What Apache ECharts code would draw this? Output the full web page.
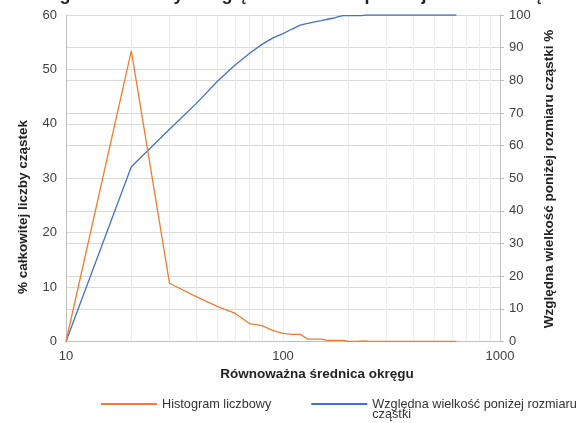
<!DOCTYPE html>
<html>
<head>
<meta charset="utf-8">
<script src="https://cdn.jsdelivr.net/npm/echarts@6/dist/echarts.min.js"></script>
<style>html,body{margin:0;padding:0;background:#fff}#c{width:587px;height:423px}</style>
</head>
<body>
<div id="c"></div>
<script>
var histX = [10, 20, 30, 40, 50, 60, 70, 80, 90, 100, 110, 120, 130, 140, 150, 160, 170, 180, 190, 200, 220, 235, 250, 300, 400, 500, 630];
var histY = [0, 53.4, 10.7, 8.2, 6.4, 5.2, 3.3, 2.9, 2.0, 1.5, 1.3, 1.3, 0.45, 0.45, 0.45, 0.2, 0.2, 0.2, 0.2, 0, 0, 0.1, 0, 0, 0, 0, 0];
var cumX = [10, 20, 30, 40, 50, 60, 70, 80, 90, 100, 110, 120, 130, 140, 150, 160, 170, 180, 190, 200, 230, 240, 300, 400, 500, 630];
var cumY = [0, 53.5, 65, 73, 79.8, 84.6, 88.2, 91, 93, 94.3, 95.7, 96.9, 97.4, 97.9, 98.3, 98.7, 99.0, 99.5, 99.8, 99.8, 99.8, 100, 100, 100, 100, 100];
var minorGridX = [20, 30, 40, 50, 60, 70, 80, 90, 200, 300, 400, 500, 600, 700, 800, 900];
var xTicks = [10, 100, 1000];
var seriesNames = ['Histogram liczbowy', 'Względna wielkość poniżej rozmiaru cząstki'];
var titleText = 'Histogram liczbowy i względna wielkość poniżej rozmiaru cząstki';
var xTitle = 'Równoważna średnica okręgu';
var yLeftTitle = '% całkowitej liczby cząstek';
var yRightTitle = 'Względna wielkość poniżej rozmiaru cząstki %';

function pairs(xs, ys) { return xs.map(function (x, i) { return [x, ys[i]]; }); }

var font = "'Liberation Sans', Arial, sans-serif";
var chart = echarts.init(document.getElementById('c'), null, {renderer: 'canvas'});
chart.setOption({
  animation: false,
  textStyle: {fontFamily: font},
  title: {
    text: titleText, left: 'center', top: -19,
    textStyle: {fontFamily: font, fontSize: 18, fontWeight: 'bold', color: '#222'}
  },
  grid: {left: 66, right: 87, top: 15, bottom: 81.5, containLabel: false},
  legend: {
    left: 96, top: 382.5, width: 600, itemWidth: 56, itemHeight: 2, itemGap: 40, icon: 'rect',
    textStyle: {fontFamily: font, fontSize: 12.7, color: '#333', lineHeight: 10},
    data: [
      {name: seriesNames[0]},
      {name: seriesNames[1]}
    ],
    formatter: function (n) { return n === seriesNames[1] ? '\nWzględna wielkość poniżej rozmiaru\ncząstki' : n; }
  },
  xAxis: {
    type: 'log', logBase: 10, min: 10, max: 1000,
    axisLine: {show: true, lineStyle: {color: '#bfbfbf'}},
    axisTick: {show: false},
    axisLabel: {fontSize: 13, color: '#404040', margin: 8, formatter: function (v) { return xTicks.indexOf(Math.round(v)) >= 0 ? String(Math.round(v)) : ''; }},
    splitLine: {show: true, lineStyle: {color: '#ececec'}}
  },
  yAxis: [
    {
      type: 'value', min: 0, max: 60, interval: 10, position: 'left',
      axisLine: {show: true, lineStyle: {color: '#bfbfbf'}},
      axisTick: {show: false},
      axisLabel: {fontSize: 13, color: '#404040', margin: 9},
      splitLine: {show: true, lineStyle: {color: '#d9d9d9'}}
    },
    {
      type: 'value', min: 0, max: 100, interval: 10, position: 'right',
      axisLine: {show: true, lineStyle: {color: '#bfbfbf'}},
      axisTick: {show: true, length: 4, lineStyle: {color: '#bfbfbf'}},
      axisLabel: {fontSize: 13, color: '#404040', margin: 9},
      splitLine: {show: true, lineStyle: {color: '#d9d9d9'}}
    }
  ],
  graphic: [
    {type: 'text', x: 317, y: 374, style: {text: xTitle, font: 'bold 13.5px ' + font, fill: '#222', align: 'center', verticalAlign: 'middle'}},
    {type: 'text', x: 23, y: 207, rotation: Math.PI / 2, style: {text: yLeftTitle, font: 'bold 13.5px ' + font, fill: '#222', align: 'center', verticalAlign: 'middle'}},
    {type: 'text', x: 549, y: 179, rotation: Math.PI / 2, style: {text: yRightTitle, font: 'bold 13.5px ' + font, fill: '#222', align: 'center', verticalAlign: 'middle'}}
  ],
  series: [
    {
      name: seriesNames[1], type: 'line', yAxisIndex: 1, data: pairs(cumX, cumY),
      showSymbol: false, symbol: 'none', color: '#4472C4', lineStyle: {width: 1.3, color: '#4472C4'},
      markLine: {
        silent: true, symbol: ['none', 'none'], label: {show: false},
        lineStyle: {color: '#ececec', width: 1, type: 'solid'},
        data: minorGridX.map(function (v) { return {xAxis: v}; }),
        z: 0
      },
      z: 3
    },
    {
      name: seriesNames[0], type: 'line', yAxisIndex: 0, data: pairs(histX, histY),
      showSymbol: false, symbol: 'none', color: '#ED7D31', lineStyle: {width: 1.3, color: '#ED7D31'},
      z: 4
    }
  ]
});
</script>
</body>
</html>
